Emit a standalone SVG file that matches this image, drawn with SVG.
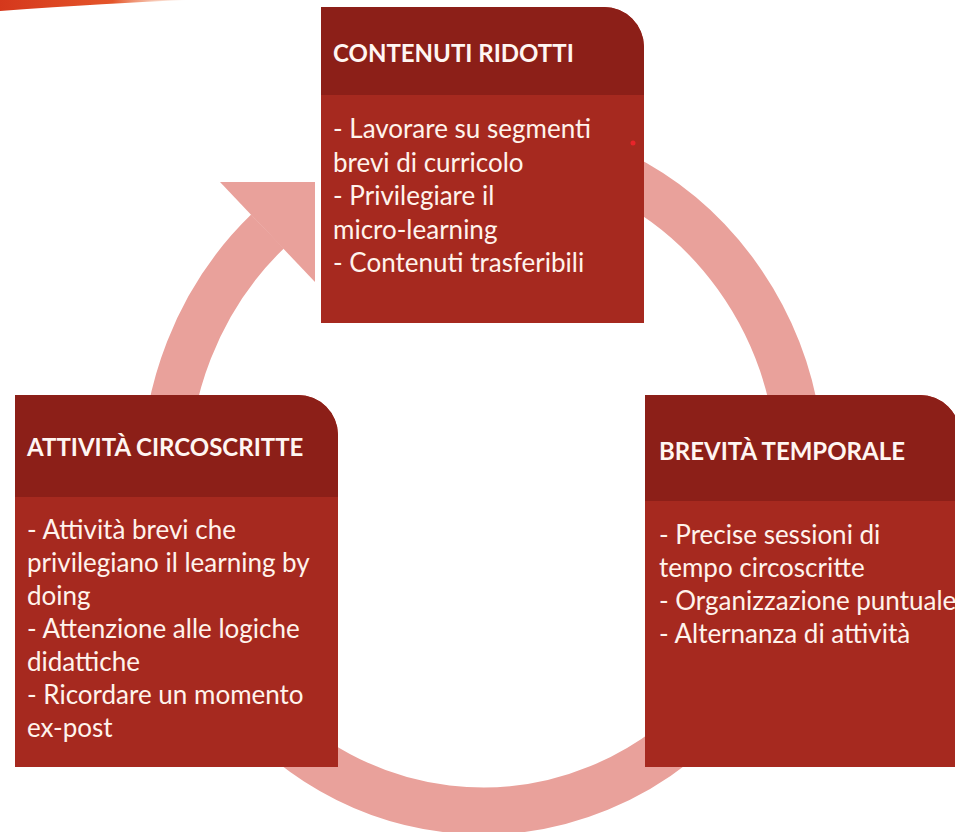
<svg xmlns="http://www.w3.org/2000/svg" width="955" height="832" viewBox="0 0 955 832">
  <defs>
    <linearGradient id="swoosh" x1="0" y1="0" x2="1" y2="0">
      <stop offset="0" stop-color="#D5381C"/>
      <stop offset="0.6" stop-color="#E4552A"/>
      <stop offset="1" stop-color="#F29A6A" stop-opacity="0"/>
    </linearGradient>
    <style>
      .ring { fill: none; stroke: #E9A19B; stroke-width: 47; }
      .head { fill: #E9A19B; }
      .hdr { fill: #8C1F18; }
      .body { fill: #A6291F; }
      .title { font-family: Lato, "Liberation Sans", sans-serif; font-weight: bold; font-size: 24px; fill: #FFF6F2; }
      .txt { font-family: Lato, "Liberation Sans", sans-serif; font-size: 26px; fill: #FFF3EC; }
    </style>
  </defs>

  <rect width="955" height="832" fill="#FFFFFF"/>

  <!-- decorative swoosh in the corner -->
  <path d="M0,0 H188 Q110,3 0,11 Z" fill="url(#swoosh)"/>

  <!-- cycle connector: ring running anticlockwise from the arrowhead, under the boxes -->
  <g id="connectors">
    <path class="ring" d="M 267.5 231.5 A 318 334 0 1 0 483 143"/>
    <polygon class="head" points="220,182 315,182 315,282"/>
  </g>

  <!-- top node -->
  <g id="contenuti-ridotti">
    <path class="body" d="M321,7 H604 A40,40 0 0 1 644,47 V323 H321 Z"/>
    <path class="hdr" d="M321,7 H604 A40,40 0 0 1 644,47 V95 H321 Z"/>
    <circle cx="633" cy="143" r="2.5" fill="#E8242A"/>
    <text class="title" x="333" y="62">CONTENUTI RIDOTTI</text>
    <text class="txt" x="333" y="138">- Lavorare su segmenti</text>
    <text class="txt" x="333" y="171.5">brevi di curricolo</text>
    <text class="txt" x="333" y="205">- Privilegiare il</text>
    <text class="txt" x="333" y="238.5">micro-learning</text>
    <text class="txt" x="333" y="272">- Contenuti trasferibili</text>
  </g>

  <!-- left node -->
  <g id="attivita-circoscritte">
    <path class="body" d="M15,395 H298 A40,40 0 0 1 338,435 V767 H15 Z"/>
    <path class="hdr" d="M15,395 H298 A40,40 0 0 1 338,435 V497 H15 Z"/>
    <text class="title" x="27" y="456">ATTIVITÀ CIRCOSCRITTE</text>
    <text class="txt" x="27" y="539">- Attività brevi che</text>
    <text class="txt" x="27" y="572">privilegiano il learning by</text>
    <text class="txt" x="27" y="605">doing</text>
    <text class="txt" x="27" y="638">- Attenzione alle logiche</text>
    <text class="txt" x="27" y="671">didattiche</text>
    <text class="txt" x="27" y="704">- Ricordare un momento</text>
    <text class="txt" x="27" y="737">ex-post</text>
  </g>

  <!-- right node -->
  <g id="brevita-temporale">
    <path class="body" d="M645,395 H920 A40,40 0 0 1 960,435 V767 H645 Z"/>
    <path class="hdr" d="M645,395 H920 A40,40 0 0 1 960,435 V501 H645 Z"/>
    <text class="title" x="659" y="460">BREVITÀ TEMPORALE</text>
    <text class="txt" x="659" y="544">- Precise sessioni di</text>
    <text class="txt" x="659" y="577">tempo circoscritte</text>
    <text class="txt" x="659" y="610">- Organizzazione puntuale</text>
    <text class="txt" x="659" y="643">- Alternanza di attività</text>
  </g>
</svg>
